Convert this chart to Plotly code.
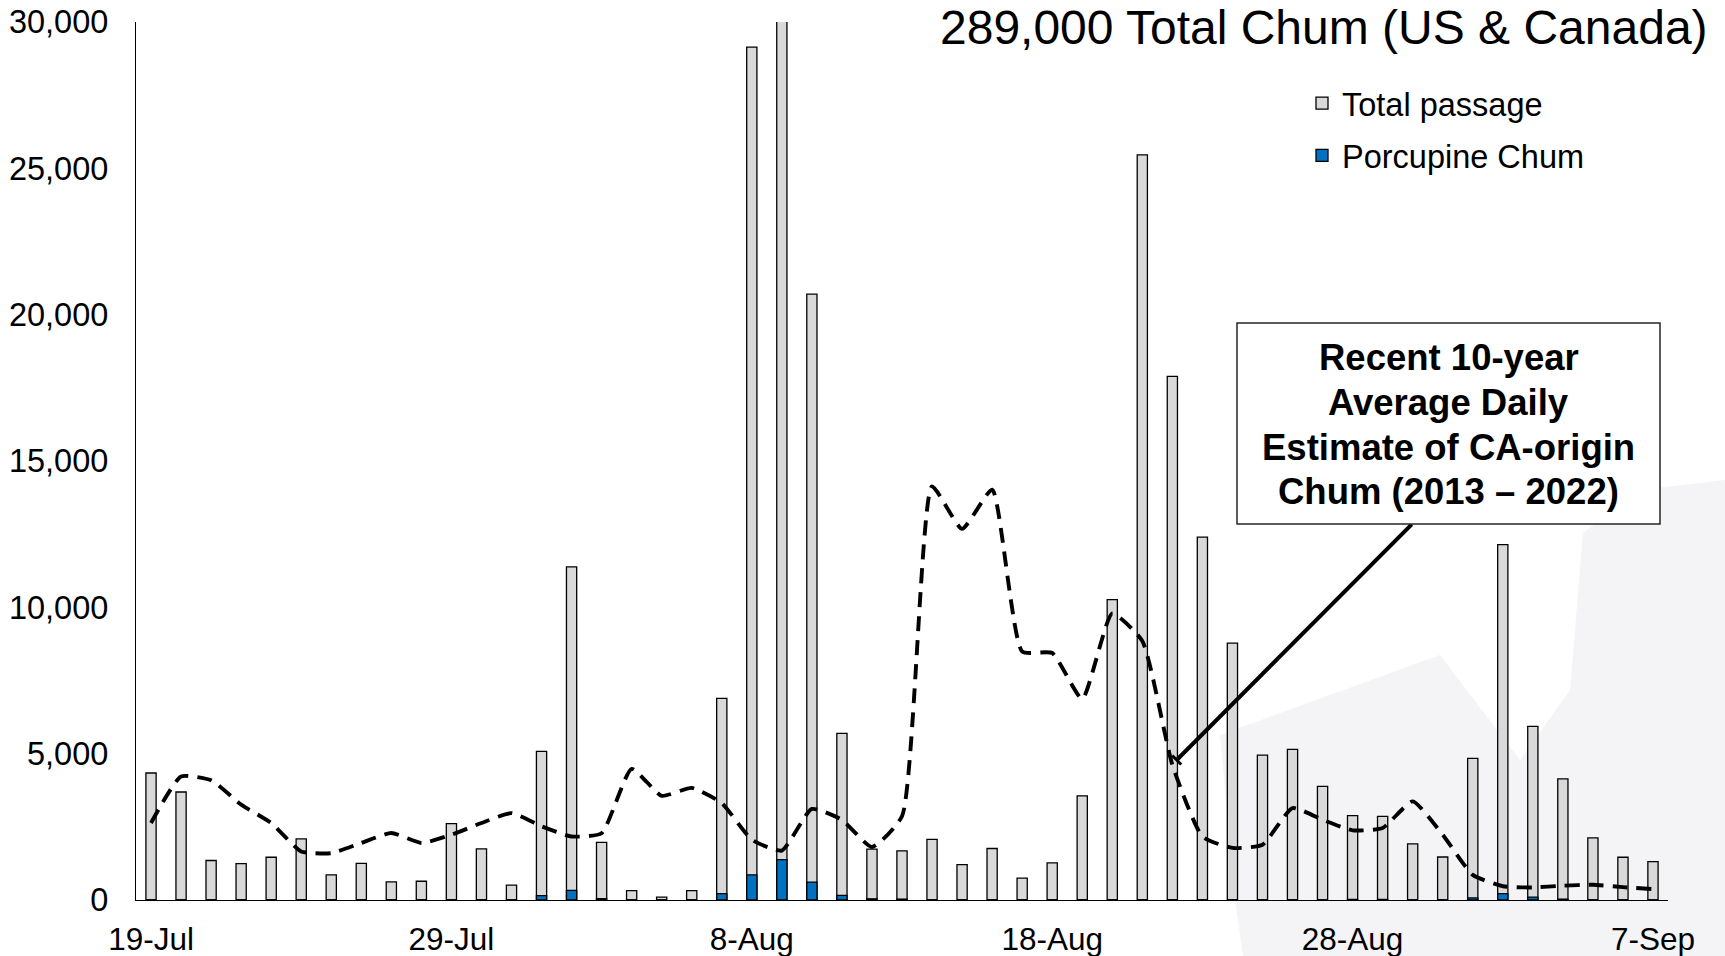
import pandas as pd
import plotly.graph_objects as go

# ---------------- data ----------------
dates = pd.date_range("2023-07-19", "2023-09-07", freq="D")
categories = [f"{d.day}-{d.strftime('%b')}" for d in dates]

total_passage = [4340, 3690, 1350, 1240, 1460, 2090, 860, 1250, 620, 640,
                 2610, 1750, 510, 5080, 11380, 1970, 320, 100, 320, 6890,
                 29140, 36500, 20700, 5690, 1740, 1680, 2070, 1210, 1760, 750,
                 1270, 3560, 10260, 25460, 17890, 12400, 8780, 4950, 5150, 3880,
                 2880, 2860, 1920, 1470, 4840, 12140, 5930, 4140, 2120, 1460, 1310]

porcupine_chum = [0, 0, 0, 0, 0, 0, 0, 0, 0, 0,
                  0, 0, 0, 150, 330, 50, 0, 0, 0, 215,
                  860, 1380, 610, 160, 40, 30, 0, 0, 0, 0,
                  0, 0, 0, 0, 0, 0, 0, 0, 0, 0,
                  20, 20, 0, 0, 70, 215, 100, 30, 0, 0, 0]

ten_year_avg = [2630, 4220, 4090, 3260, 2630, 1660, 1600, 1950, 2290, 1950,
                2230, 2630, 2970, 2520, 2170, 2280, 4480, 3560, 3830, 3310,
                2060, 1690, 3110, 2740, 1810, 2860, 14130, 12680, 14020, 8490,
                8440, 6870, 9790, 8850, 4620, 2170, 1780, 1890, 3140, 2740,
                2380, 2460, 3370, 2230, 860, 470, 430, 490, 520, 440, 370]

tick_labels = ["19-Jul", "29-Jul", "8-Aug", "18-Aug", "28-Aug", "7-Sep"]
y_ticks = [0, 5000, 10000, 15000, 20000, 25000, 30000]

title_text = "289,000 Total Chum (US &amp; Canada)"
box_lines = ["Recent 10-year", "Average Daily", "Estimate of CA-origin",
             "Chum (2013 \u2013 2022)"]

# ---------------- layout geometry ----------------
W, H = 1725, 956
L, R, T, B = 136, 57, 22, 56
PW, PH = W - L - R, H - T - B
FONT = "Liberation Sans, Arial, sans-serif"
N = len(categories)
YMAX = 30000


def px_x(p):
    return (p - L) / PW


def px_y(p):
    return (H - B - p) / PH


def dx(p):
    return (p - L) / PW * N - 0.5


def dy(p):
    return (H - B - p) / PH * YMAX


fig = go.Figure()

fig.add_trace(go.Bar(
    x=categories, y=total_passage, name="Total passage",
    marker=dict(color="#D9D9D9", line=dict(color="#000000", width=1.3)),
    width=0.34, legendgroup="a",
))
fig.add_trace(go.Bar(
    x=categories, y=porcupine_chum, name="Porcupine Chum",
    marker=dict(color="#0070C0", line=dict(color="#000000", width=1.3)),
    width=0.34, legendgroup="b",
))
fig.add_trace(go.Scatter(
    x=categories, y=ten_year_avg, mode="lines", showlegend=False,
    line=dict(color="#000000", width=3.9, dash="15px,9px", shape="spline", smoothing=0.5),
    name="Recent 10-year average",
))

shapes = []
# faint background watermark (bottom-right)
wm = [(1220, 735), (1440, 655), (1520, 760), (1570, 690), (1583, 533),
      (1640, 490), (1725, 480), (1725, 956), (1243, 956), (1235, 900)]
path = "M " + " L ".join(f"{px_x(a):.5f},{px_y(b):.5f}" for a, b in wm) + " Z"
shapes.append(dict(type="path", xref="paper", yref="paper", path=path,
                   fillcolor="#F4F4F6", line=dict(width=0), layer="below"))
# callout line from box to the dashed line
hx, hy = 1176.7, 760.0
tx, ty = 1411.7, 524.3
shapes.append(dict(type="line", xref="x", yref="y",
                   x0=dx(tx), y0=dy(ty), x1=dx(hx), y1=dy(hy),
                   line=dict(color="#000000", width=4), layer="above"))
shapes.append(dict(type="line", xref="x", yref="y",
                   x0=dx(hx - 4.5), y0=dy(hy - 4.5), x1=dx(hx + 4.5), y1=dy(hy + 4.5),
                   line=dict(color="#000000", width=3), layer="above"))
# annotation box
shapes.append(dict(type="rect", xref="paper", yref="paper",
                   x0=px_x(1237), x1=px_x(1660), y0=px_y(524), y1=px_y(323),
                   fillcolor="#FFFFFF", line=dict(color="#262626", width=1.5), layer="above"))

annotations = [
    dict(xref="paper", yref="paper", x=px_x(1710), y=px_y(27),
         xanchor="right", yanchor="middle", text=title_text, showarrow=False,
         font=dict(family=FONT, size=48, color="#000000")),
]
line_centers = [358, 403, 447, 491]
for txt, yc in zip(box_lines, line_centers):
    annotations.append(dict(
        xref="paper", yref="paper", x=px_x(1448.5), y=px_y(yc),
        xanchor="center", yanchor="middle", text=f"<b>{txt}</b>", showarrow=False,
        font=dict(family=FONT, size=36.5, color="#000000")))

fig.update_layout(
    width=W, height=H,
    margin=dict(l=L, r=R, t=T, b=B, pad=0, autoexpand=False),
    paper_bgcolor="#FFFFFF", plot_bgcolor="rgba(0,0,0,0)",
    barmode="overlay",
    font=dict(family=FONT, size=31.5, color="#000000"),
    showlegend=True,
    legend=dict(x=px_x(1302), y=px_y(75.5), xanchor="left", yanchor="top",
                font=dict(family=FONT, size=32.5, color="#000000"),
                bgcolor="rgba(0,0,0,0)", traceorder="grouped", tracegroupgap=7),
    shapes=shapes, annotations=annotations,
)
fig.update_xaxes(
    type="category", categoryorder="array", categoryarray=categories,
    range=[-0.5, N - 0.5], showline=True, linecolor="#000000", linewidth=1.3,
    ticks="", tickvals=tick_labels, ticktext=tick_labels, showgrid=False, zeroline=False,
    tickfont=dict(family=FONT, size=31.5, color="#000000"), ticklabelstandoff=11,
    automargin=False,
)
fig.update_yaxes(
    range=[0, YMAX], tickvals=y_ticks, tickformat=",", showline=True,
    linecolor="#000000", linewidth=1.3, ticks="", showgrid=False, zeroline=False,
    tickfont=dict(family=FONT, size=32.5, color="#000000"), ticklabelstandoff=20,
    automargin=False,
)

fig.write_html(
    "out.html",
    config={"displayModeBar": False},
    post_script="document.body.style.margin='0';document.body.style.overflow='hidden';",
)
